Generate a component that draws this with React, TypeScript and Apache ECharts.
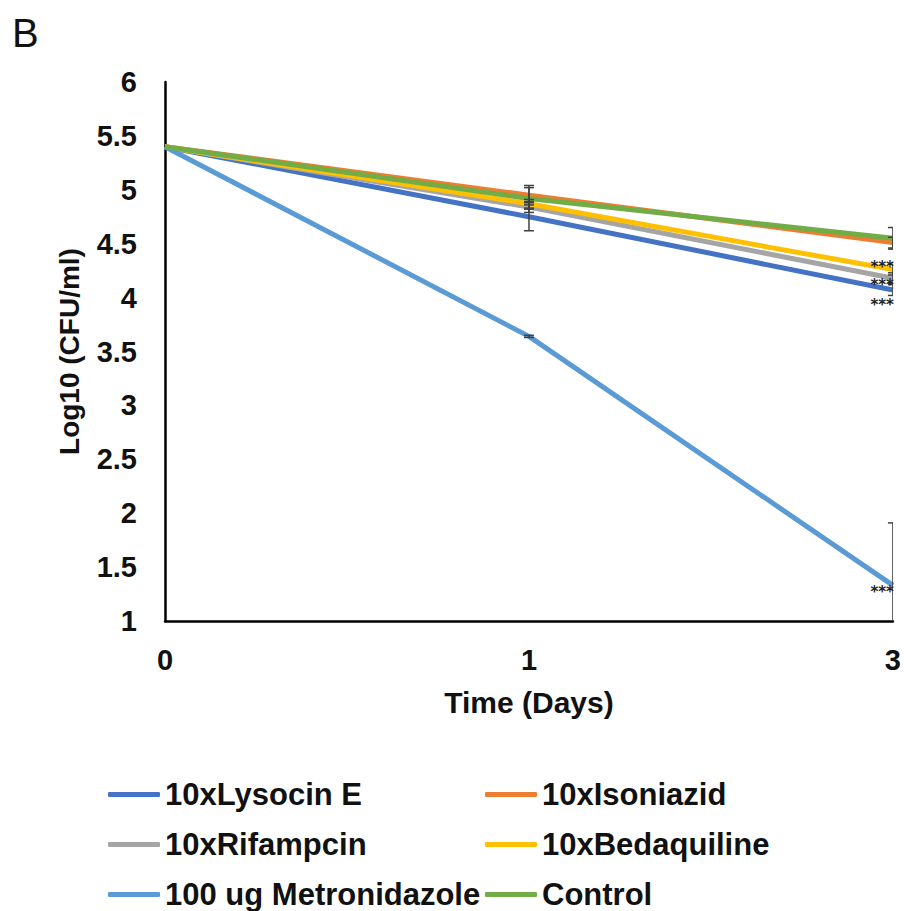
import React, { useEffect, useRef } from "react";
import * as echarts from "echarts";

const days = ["0", "1", "3"];
const seriesNames = [
  "10xLysocin E",
  "10xIsoniazid",
  "10xRifampcin",
  "10xBedaquiline",
  "100 ug Metronidazole",
  "Control",
];
const lysocin = [5.4, 4.75, 4.07];
const isoniazid = [5.4, 4.95, 4.51];
const rifampcin = [5.4, 4.84, 4.18];
const bedaquiline = [5.4, 4.87, 4.26];
const metronidazole = [5.4, 3.64, 1.33];
const control = [5.4, 4.92, 4.55];

const lysocinErr = [0, 0.13, 0.05];
const isoniazidErr = [0, 0.09, 0.05];
const rifampcinErr = [0, 0.05, 0.05];
const bedaquilineErr = [0, 0.04, 0.05];
const metronidazoleErr = [0, 0.01, 0.58];
const controlErr = [0, 0.1, 0.1];

const significance = ["***", "", "***", "***", "***", ""];

const colors = ["#4472C4", "#ED7D31", "#A5A5A5", "#FFC000", "#5B9BD5", "#70AD47"];
const starOffsets = [11, 0, 3, -7, 3, 0];

const allValues = [lysocin, isoniazid, rifampcin, bedaquiline, metronidazole, control];
const allErrs = [lysocinErr, isoniazidErr, rifampcinErr, bedaquilineErr, metronidazoleErr, controlErr];

const FONT = "'Liberation Sans', Arial, sans-serif";

export default function App() {
  const ref = useRef<HTMLDivElement>(null);
  useEffect(() => {
    if (!ref.current) return;
    const chart = echarts.init(ref.current, undefined, { renderer: "svg" });

    const lineSeries = seriesNames.map((name, si) => ({
      name,
      type: "line",
      symbol: "none",
      color: colors[si],
      lineStyle: { width: 5, color: colors[si] },
      z: 2 + si * 0.01,
      data: allValues[si],
    }));

    const errData: number[][] = [];
    allValues.forEach((vals, si) => {
      vals.forEach((v, i) => {
        if (allErrs[si][i] > 0) errData.push([i, v, allErrs[si][i], si]);
      });
    });

    const errSeries = {
      type: "custom",
      name: "err",
      z: 5,
      silent: true,
      data: errData,
      renderItem: (params: any, api: any) => {
        const x = api.value(0);
        const y = api.value(1);
        const e = api.value(2);
        const lowV = Math.max(y - e, 1);
        const top = api.coord([x, y + e]);
        const bot = api.coord([x, lowV]);
        const hw = 5;
        const style = { stroke: "#404040", lineWidth: 1.5 };
        const children: any[] = [
          { type: "line", shape: { x1: top[0], y1: top[1], x2: bot[0], y2: bot[1] }, style },
          { type: "line", shape: { x1: top[0] - hw, y1: top[1], x2: top[0] + hw, y2: top[1] }, style },
        ];
        if (y - e >= 1) {
          children.push({ type: "line", shape: { x1: bot[0] - hw, y1: bot[1], x2: bot[0] + hw, y2: bot[1] }, style });
        }
        const cs = params.coordSys;
        return {
          type: "group",
          children,
          clipPath: { type: "rect", shape: { x: cs.x, y: cs.y - 2, width: cs.width, height: cs.height + 2 } },
        };
      },
    };

    const starData: any[] = [];
    allValues.forEach((vals, si) => {
      if (significance[si]) starData.push([vals.length - 1, vals[vals.length - 1], si]);
    });

    const starSeries = {
      type: "custom",
      name: "stars",
      z: 6,
      silent: true,
      data: starData,
      renderItem: (params: any, api: any) => {
        const x = api.value(0);
        const y = api.value(1);
        const si = api.value(2);
        const p = api.coord([x, y]);
        return {
          type: "text",
          x: p[0] + 1,
          y: p[1] + starOffsets[si] + 4,
          style: {
            text: significance[si],
            fontSize: 15,
            lineHeight: 14,
            fontWeight: "bold",
            fontFamily: "'DejaVu Sans', sans-serif",
            fill: "#222",
            align: "right",
            verticalAlign: "middle",
          },
        };
      },
    };

    const legendCommon = {
      orient: "vertical",
      icon: "roundRect",
      itemWidth: 52,
      itemHeight: 5,
      itemGap: 19,
      padding: 0,
      selectedMode: false,
      textStyle: {
        fontSize: 31,
        fontWeight: "bold",
        color: "#111",
        fontFamily: FONT,
        lineHeight: 30,
      },
    };

    chart.setOption({
      animation: false,
      backgroundColor: "#fff",
      graphic: [
        {
          type: "text",
          left: 12,
          top: 13,
          style: { text: "B", fontSize: 40, fontFamily: FONT, fill: "#111" },
        },
      ],
      grid: { left: 165, right: 11, top: 82, bottom: 290, containLabel: false },
      legend: [
        { ...legendCommon, left: 108, top: 779, data: [seriesNames[0], seriesNames[2], seriesNames[4]] },
        { ...legendCommon, left: 485, top: 779, data: [seriesNames[1], seriesNames[3], seriesNames[5]] },
      ],
      xAxis: {
        type: "category",
        data: days,
        boundaryGap: false,
        name: "Time (Days)",
        nameLocation: "middle",
        nameGap: 66,
        nameTextStyle: { fontSize: 30, fontWeight: "bold", color: "#111", fontFamily: FONT },
        axisLine: { lineStyle: { color: "#000", width: 2.5 } },
        axisTick: { show: false },
        axisLabel: { fontSize: 29, fontWeight: "bold", color: "#111", fontFamily: FONT, margin: 24 },
        splitLine: { show: false },
      },
      yAxis: {
        type: "value",
        min: 1,
        max: 6,
        interval: 0.5,
        name: "Log10 (CFU/ml)",
        nameLocation: "middle",
        nameGap: 82,
        nameRotate: 90,
        nameTextStyle: { fontSize: 28, fontWeight: "bold", color: "#111", fontFamily: FONT },
        axisLine: { show: true, lineStyle: { color: "#000", width: 2.5 } },
        axisTick: { show: false },
        axisLabel: { fontSize: 29, fontWeight: "bold", color: "#111", fontFamily: FONT, margin: 28 },
        splitLine: { show: false },
      },
      series: [...lineSeries, errSeries, starSeries],
    });
    return () => chart.dispose();
  }, []);
  return <div ref={ref} style={{ width: 904, height: 911, position: "absolute", left: 0, top: 0 }} />;
}
